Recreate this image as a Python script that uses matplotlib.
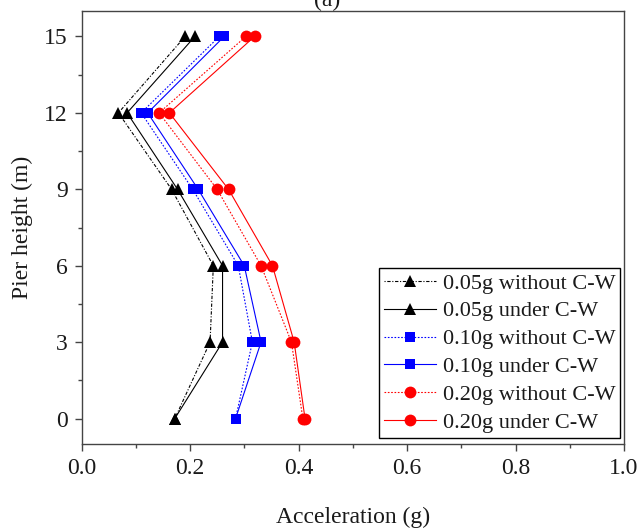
import matplotlib
matplotlib.use("Agg")
import matplotlib.pyplot as plt
from matplotlib.ticker import MultipleLocator

plt.rcParams['font.family'] = ['Liberation Serif', 'DejaVu Serif']

heights = [0, 3, 6, 9, 12, 15]
a005_without = [0.172, 0.237, 0.243, 0.166, 0.068, 0.191]
a005_under = [0.172, 0.260, 0.260, 0.177, 0.084, 0.209]
a010_without = [0.284, 0.315, 0.289, 0.205, 0.110, 0.254]
a010_under = [0.284, 0.331, 0.300, 0.215, 0.122, 0.263]
a020_without = [0.408, 0.387, 0.331, 0.250, 0.143, 0.303]
a020_under = [0.412, 0.392, 0.352, 0.271, 0.162, 0.319]

labels = ["0.05g without C-W", "0.05g under C-W",
          "0.10g without C-W", "0.10g under C-W",
          "0.20g without C-W", "0.20g under C-W"]

fig = plt.figure(figsize=(6.43, 5.31), dpi=100)
ax = fig.add_axes([81.5/643, 1-444/531, (624-81.5)/643, (444-11)/531])

series = [
    (a005_without, 'black', (0, (1, 1.5, 3, 1.5)), '^', 8),
    (a005_under, 'black', '-', '^', 8),
    (a010_without, 'blue', (0, (1.5, 1.5)), 's', 7.5),
    (a010_under, 'blue', '-', 's', 7.5),
    (a020_without, 'red', (0, (1.5, 1.5)), 'o', 8.5),
    (a020_under, 'red', '-', 'o', 8.5),
]
for (vals, c, ls, m, ms), lab in zip(series, labels):
    ax.plot(vals, heights, color=c, linestyle=ls, linewidth=0.8,
            marker=m, markersize=ms, markeredgewidth=0, label=lab)

ax.set_xlim(0, 1.0)
ax.set_ylim(-1, 16)
ax.xaxis.set_major_locator(MultipleLocator(0.2))
ax.xaxis.set_minor_locator(MultipleLocator(0.1))
ax.yaxis.set_major_locator(MultipleLocator(3))
ax.yaxis.set_minor_locator(MultipleLocator(1.5))
ax.xaxis.set_major_formatter(plt.FormatStrFormatter('%.1f'))
ax.yaxis.set_major_formatter(plt.FormatStrFormatter('%d'))

spine_c = '#444444'
for s in ax.spines.values():
    s.set_color(spine_c)
    s.set_linewidth(1.0)
ax.tick_params(which='both', direction='out', color=spine_c, labelsize=17,
               labelcolor='#1a1a1a', top=False, right=False)
ax.tick_params(which='major', length=5, width=1, pad=5)
ax.tick_params(which='minor', length=3, width=1)

ax.set_xlabel("Acceleration (g)", fontsize=17, color='#1a1a1a', labelpad=20)
ax.set_ylabel("Pier height (m)", fontsize=17, color='#1a1a1a', labelpad=8)

leg = ax.legend(loc='lower right', bbox_to_anchor=(0.993, 0.014),
                borderaxespad=0, fontsize=16, frameon=True, fancybox=False,
                edgecolor='black', handlelength=2.35, handletextpad=0.3,
                labelspacing=0.33, borderpad=0.22, framealpha=1)
leg.get_frame().set_linewidth(1.0)
for t in leg.get_texts():
    t.set_color('#1a1a1a')

fig.text(327/643, 1-6/531, "(a)", fontsize=17, ha='center', va='baseline',
         color='#1a1a1a')

fig.savefig("out.png", dpi=100)
